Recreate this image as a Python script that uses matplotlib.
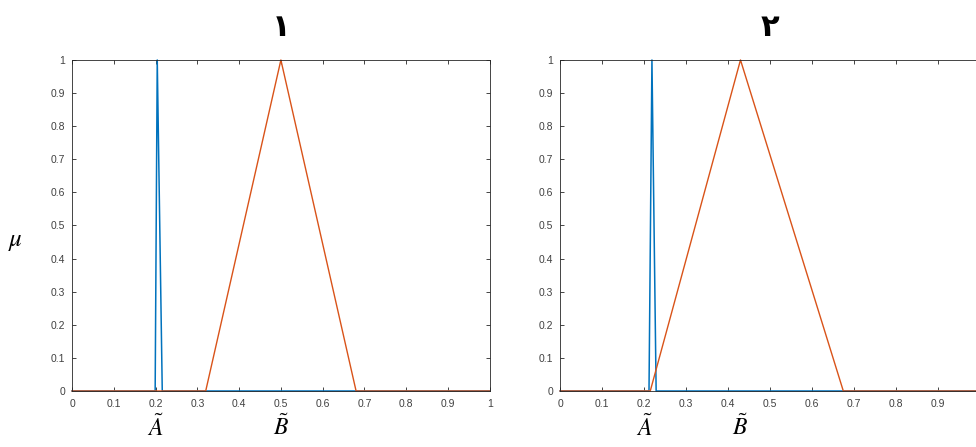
import matplotlib
matplotlib.use("Agg")
import matplotlib.pyplot as plt
import numpy as np

# membership functions
a1_x = [0.0, 0.199, 0.204, 0.216, 1.0]
a1_y = [0, 0, 1, 0, 0]
b1_x = [0.0, 0.32, 0.5, 0.68, 1.0]
b1_y = [0, 0, 1, 0, 0]
a2_x = [0.0, 0.212, 0.219, 0.229, 1.0]
a2_y = [0, 0, 1, 0, 0]
b2_x = [0.0, 0.215, 0.43, 0.675, 1.0]
b2_y = [0, 0, 1, 0, 0]

panel_titles = ["\u06f1", "\u06f2"]
label_pos = [(0.2, 0.5), (0.2, 0.43)]

BLUE = "#0072BD"
ORANGE = "#D95319"

plt.rcParams['font.family'] = ['Liberation Sans', 'DejaVu Sans']
plt.rcParams['mathtext.fontset'] = 'stix'

fig = plt.figure(figsize=(9.76, 4.47), dpi=100)
ax1 = fig.add_axes([0.0738, 0.1253, 0.428, 0.7405])
ax2 = fig.add_axes([0.5738, 0.1253, 0.430, 0.7405])

panels = [(ax1, a1_x, a1_y, b1_x, b1_y), (ax2, a2_x, a2_y, b2_x, b2_y)]
for i, (ax, ax_, ay, bx, by) in enumerate(panels):
    ax.plot(ax_, ay, color=BLUE, lw=1.1, clip_on=False)
    ax.plot(bx, by, color=ORANGE, lw=1.0, clip_on=False)
    ax.set_xlim(0, 1)
    ax.set_ylim(0, 1)
    ticks = np.round(np.arange(0, 1.01, 0.1), 1)
    labels = ["0" if t == 0 else ("1" if t == 1 else f"{t:g}") for t in ticks]
    xlabels = list(labels)
    if i == 1:
        xlabels[-1] = ""  # cut off by the picture edge in the original
    ax.set_xticks(ticks)
    ax.set_xticklabels(xlabels)
    ax.set_yticks(ticks)
    ax.set_yticklabels(labels)
    ax.tick_params(direction='in', top=True, right=True, length=3, width=0.6,
                   labelsize=7.5, labelcolor='#404040', color='#262626')
    ax.tick_params(axis='x', pad=6)
    ax.tick_params(axis='y', pad=5)
    for s in ax.spines.values():
        s.set_linewidth(0.6)
        s.set_color('#262626')
    ax.set_title(panel_titles[i], fontsize=22, fontweight='bold',
                 family=['DejaVu Sans'], pad=17)
    xa, xb = label_pos[i]
    ax.text(xa, -0.11, r"$\tilde{A}$", transform=ax.get_xaxis_transform(),
            ha='center', va='center', fontsize=17)
    ax.text(xb, -0.11, r"$\tilde{B}$", transform=ax.get_xaxis_transform(),
            ha='center', va='center', fontsize=17)

fig.text(0.016, 0.46, r"$\mu$", fontsize=18, ha='center', va='center')

fig.savefig("out.png", dpi=100)
